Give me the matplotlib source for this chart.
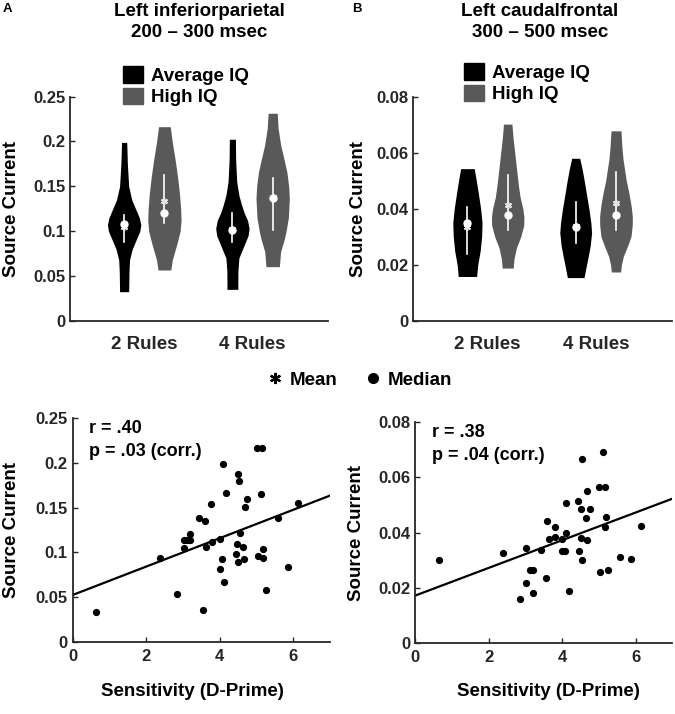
import numpy as np
import matplotlib
matplotlib.use('Agg')
import matplotlib.pyplot as plt
from matplotlib.patches import Patch
from matplotlib.lines import Line2D

plt.rcParams['font.family'] = ['Liberation Sans', 'DejaVu Sans']
plt.rcParams['font.weight'] = 'bold'
plt.rcParams['axes.labelweight'] = 'bold'

BLACK = '#000000'
GRAY = '#595959'
AXC = '#262626'

# ---- violin data: (value, half width) profiles ----
conditions = ['2 Rules', '4 Rules']
groups = ['Average IQ', 'High IQ']

A_avg2 = [(0.0324, 0.042), (0.055, 0.045), (0.068, 0.050), (0.080, 0.075), (0.090, 0.110),
          (0.100, 0.145), (0.107, 0.154), (0.115, 0.140), (0.125, 0.105), (0.135, 0.070),
          (0.150, 0.042), (0.175, 0.030), (0.199, 0.024)]
A_high2 = [(0.0566, 0.059), (0.068, 0.073), (0.086, 0.116), (0.100, 0.145), (0.112, 0.154),
           (0.125, 0.150), (0.142, 0.139), (0.160, 0.122), (0.179, 0.100), (0.200, 0.072),
           (0.2165, 0.054)]
A_avg4 = [(0.035, 0.050), (0.055, 0.051), (0.070, 0.060), (0.085, 0.111), (0.095, 0.145),
          (0.103, 0.154), (0.112, 0.140), (0.120, 0.110), (0.129, 0.085), (0.140, 0.060),
          (0.155, 0.040), (0.180, 0.030), (0.2025, 0.028)]
A_high4 = [(0.0603, 0.062), (0.077, 0.073), (0.090, 0.105), (0.0993, 0.123), (0.115, 0.145),
           (0.1366, 0.154), (0.150, 0.148), (0.166, 0.131), (0.180, 0.105), (0.196, 0.074),
           (0.215, 0.050), (0.2315, 0.042)]

B_avg2 = [(0.0158, 0.085), (0.020, 0.095), (0.025, 0.118), (0.030, 0.131), (0.035, 0.135),
          (0.040, 0.122), (0.0457, 0.100), (0.050, 0.082), (0.0543, 0.063)]
B_high2 = [(0.0188, 0.051), (0.022, 0.058), (0.026, 0.080), (0.030, 0.120), (0.034, 0.148),
           (0.037, 0.150), (0.040, 0.140), (0.044, 0.115), (0.048, 0.100), (0.054, 0.082),
           (0.060, 0.065), (0.065, 0.050), (0.0702, 0.039)]
B_avg4 = [(0.0154, 0.077), (0.019, 0.095), (0.023, 0.116), (0.027, 0.135), (0.0314, 0.147),
          (0.035, 0.140), (0.0397, 0.123), (0.045, 0.100), (0.0493, 0.082), (0.054, 0.060),
          (0.058, 0.037)]
B_high4 = [(0.0174, 0.043), (0.020, 0.050), (0.023, 0.068), (0.027, 0.110), (0.0301, 0.139),
           (0.034, 0.150), (0.0373, 0.151), (0.041, 0.140), (0.0457, 0.119), (0.050, 0.095),
           (0.0577, 0.065), (0.062, 0.055), (0.0678, 0.046)]

# medians, means, interquartile ranges (avg2, high2, avg4, high4)
A_median = [0.1076, 0.1205, 0.1015, 0.137]
A_mean = [0.105, 0.134, 0.102, 0.138]
A_iqr = [(0.088, 0.118), (0.1087, 0.1626), (0.088, 0.1205), (0.1012, 0.1596)]
B_median = [0.0349, 0.0376, 0.0335, 0.0378]
B_mean = [0.0334, 0.0415, 0.034, 0.0419]
B_iqr = [(0.0239, 0.0407), (0.0325, 0.0519), (0.0278, 0.0423), (0.0325, 0.0531)]

# ---- scatter data ----
dprime_A = [0.64, 2.38, 2.85, 3.02, 3.11, 3.20, 3.20, 3.02, 3.43, 3.55, 3.59, 3.64, 3.80, 3.77,
            4.02, 4.08, 4.07, 4.00, 4.11, 4.18, 4.43, 4.46, 4.51, 4.53, 4.54, 4.51, 4.64, 4.68,
            4.67, 4.74, 5.02, 5.15, 5.11, 5.04, 5.17, 5.18, 5.25, 5.58, 5.86, 6.14]
current_A = [0.034, 0.0935, 0.0538, 0.114, 0.114, 0.114, 0.120, 0.105, 0.138, 0.036, 0.1354,
             0.106, 0.1116, 0.1536, 0.1153, 0.1985, 0.0924, 0.0819, 0.0671, 0.1659, 0.0986,
             0.109, 0.1873, 0.1796, 0.1213, 0.089, 0.1057, 0.151, 0.0924, 0.1595, 0.2159,
             0.2159, 0.165, 0.0964, 0.0935, 0.1039, 0.0579, 0.138, 0.0842, 0.1547]

dprime_B = [0.66, 2.39, 2.86, 3.03, 3.03, 3.12, 3.21, 3.20, 3.43, 3.56, 3.60, 3.65, 3.80, 3.82,
            4.00, 4.01, 4.07, 4.10, 4.12, 4.18, 4.43, 4.46, 4.51, 4.52, 4.55, 4.53, 4.64, 4.68,
            4.69, 4.75, 5.01, 5.16, 5.12, 5.04, 5.19, 5.17, 5.25, 5.59, 5.87, 6.14]
current_B = [0.0301, 0.0325, 0.0161, 0.0343, 0.0217, 0.0265, 0.0265, 0.0183, 0.0337, 0.0235,
             0.044, 0.0377, 0.0385, 0.0419, 0.0375, 0.0333, 0.0333, 0.0505, 0.0397, 0.0189,
             0.0513, 0.0333, 0.0484, 0.0379, 0.0666, 0.0301, 0.0451, 0.0373, 0.055, 0.0484,
             0.0564, 0.0564, 0.0692, 0.0256, 0.0455, 0.0421, 0.0265, 0.031, 0.0304, 0.0425]

fit_A = (0.0527, 0.0158)   # intercept, slope
fit_B = (0.0172, 0.0050)
stats_A = ['r = .40', 'p = .03 (corr.)']
stats_B = ['r = .38', 'p = .04 (corr.)']


def style(ax):
    for s in ['top', 'right']:
        ax.spines[s].set_visible(False)
    for s in ['left', 'bottom']:
        ax.spines[s].set_linewidth(1.3)
        ax.spines[s].set_color(AXC)
    ax.tick_params(direction='in', length=3.5, width=1, colors=AXC, labelsize=12)


def violin_panel(ax, profiles, medians, means, iqrs, yticks, ylabels):
    style(ax)
    pos = [1 - 0.186, 1 + 0.186, 2 - 0.186, 2 + 0.186]
    cols = [BLACK, GRAY, BLACK, GRAY]
    for p, prof, c, med, mn, q in zip(pos, profiles, cols, medians, means, iqrs):
        y = [v[0] for v in prof]
        w = np.array([v[1] for v in prof])
        ax.fill_betweenx(y, p - w, p + w, color=c, lw=0)
        ax.plot([p, p], q, color='white', lw=1.2)
        ax.plot(p, mn, ls='none', marker=(6, 2, 0), ms=5, mew=1.1, color='#e6e6e6')
        ax.plot(p, med, ls='none', marker='o', ms=5, color='white')
    ax.set_xlim(0.314, 2.70)
    ax.set_ylim(yticks[0], yticks[-1])
    ax.set_yticks(yticks)
    ax.set_yticklabels(ylabels)
    ax.set_xticks([1, 2])
    ax.set_xticklabels(conditions, fontsize=13.5)
    ax.tick_params(axis='x', length=0, pad=11)
    ax.set_ylabel('Source Current', fontsize=13.5)


def scatter_panel(ax, x, y, fit, stats, yticks, ylabels, ylim_top):
    style(ax)
    ax.plot(x, y, ls='none', marker='o', ms=4.2, color='black')
    xs = np.array([0, 7])
    ax.plot(xs, fit[0] + fit[1] * xs, color='black', lw=1.6)
    ax.set_xlim(0, 7)
    ax.set_ylim(0, ylim_top)
    ax.set_xticks([0, 2, 4, 6])
    ax.set_yticks(yticks)
    ax.set_yticklabels(ylabels)
    ax.tick_params(axis='x', pad=5)
    ax.set_ylabel('Source Current', fontsize=13.5)
    ax.set_xlabel('Sensitivity (D-Prime)', fontsize=13.5)
    ax.text(0.45, 0.95 * ylim_top, stats[0], fontsize=13, va='center')
    ax.text(0.45, 0.848 * ylim_top, stats[1], fontsize=13, va='center')


fig = plt.figure(figsize=(6.75, 7.14), dpi=100)
axA = fig.add_axes([0.1037, 0.5508, 0.3827, 0.3138])
axB = fig.add_axes([0.6123, 0.5508, 0.3827, 0.3138])
axC = fig.add_axes([0.1077, 0.1004, 0.3812, 0.3146])
axD = fig.add_axes([0.6148, 0.0990, 0.3812, 0.3104])

violin_panel(axA, [A_avg2, A_high2, A_avg4, A_high4], A_median, A_mean, A_iqr,
             [0, 0.05, 0.1, 0.15, 0.2, 0.25], ['0', '0.05', '0.1', '0.15', '0.2', '0.25'])
violin_panel(axB, [B_avg2, B_high2, B_avg4, B_high4], B_median, B_mean, B_iqr,
             [0, 0.02, 0.04, 0.06, 0.08], ['0', '0.02', '0.04', '0.06', '0.08'])
scatter_panel(axC, dprime_A, current_A, fit_A, stats_A,
              [0, 0.05, 0.1, 0.15, 0.2, 0.25], ['0', '0.05', '0.1', '0.15', '0.2', '0.25'], 0.25)
scatter_panel(axD, dprime_B, current_B, fit_B, stats_B,
              [0, 0.02, 0.04, 0.06, 0.08], ['0', '0.02', '0.04', '0.06', '0.08'], 0.08)

axA.yaxis.set_label_coords(-0.195, 0.5)
axB.yaxis.set_label_coords(-0.18, 0.5)
axC.yaxis.set_label_coords(-0.205, 0.5)
axD.yaxis.set_label_coords(-0.195, 0.5)
axC.xaxis.set_label_coords(0.465, -0.18)
axD.xaxis.set_label_coords(0.52, -0.18)

# titles and panel letters
fig.text(199 / 675, 1 - 22 / 714, 'Left inferiorparietal\n200 – 300 msec', ha='center',
         va='center', fontsize=13.5, linespacing=1.3)
fig.text(540 / 675, 1 - 22 / 714, 'Left caudalfrontal\n300 – 500 msec', ha='center',
         va='center', fontsize=13.5, linespacing=1.3)
fig.text(3 / 675, 1 - 9 / 714, 'A', fontsize=9.5, va='center')
fig.text(352 / 675, 1 - 9 / 714, 'B', fontsize=9.5, va='center')

# group legends
grp_handles = [Patch(color=BLACK), Patch(color=GRAY)]
for ax, xa, ya in [(axA, 123, 66), (axB, 464, 63)]:
    ax.legend(grp_handles, groups, loc='upper left', bbox_to_anchor=(xa / 675, 1 - ya / 714),
              bbox_transform=fig.transFigure, frameon=False, fontsize=13.5,
              handlelength=1.05, handleheight=1.0, handletextpad=0.45, labelspacing=0.15,
              borderpad=0, borderaxespad=0)

# mean / median legend
h_mean = Line2D([], [], ls='none', marker=(6, 2, 0), ms=8, mew=1.6, color='black', label='Mean')
h_med = Line2D([], [], ls='none', marker='o', ms=7, color='black', label='Median')
fig.legend(handles=[h_mean, h_med], loc='center', bbox_to_anchor=(0.533, 1 - 380 / 714),
           ncol=2, frameon=False, fontsize=13.5, handlelength=0.8, handletextpad=0.4,
           columnspacing=1.5)

fig.savefig('out.png', dpi=100)
